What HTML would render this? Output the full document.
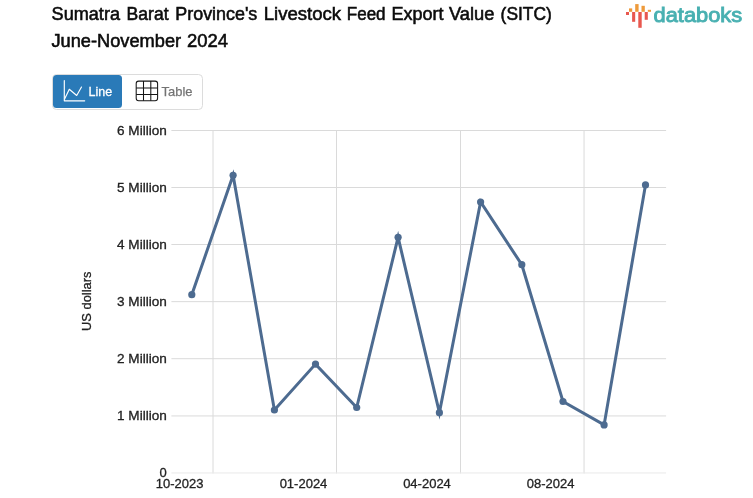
<!DOCTYPE html>
<html lang="en">
<head>
<meta charset="utf-8">
<title>Sumatra Barat Province's Livestock Feed Export Value (SITC)</title>
<style>
html,body{margin:0;padding:0;background:#fff;}
body{width:753px;height:498px;overflow:hidden;position:relative;font-family:"Liberation Sans",sans-serif;}
svg{position:absolute;left:0;top:0;display:block;}
text{font-family:"Liberation Sans",sans-serif;}
.title{font-size:17.6px;fill:#0c0c0c;stroke:#0c0c0c;stroke-width:0.55px;}
.ax{font-size:13px;fill:#222;stroke:#222;stroke-width:0.3px;}
.grid{stroke:#d6d6d6;stroke-width:1;fill:none;shape-rendering:auto;}
</style>
</head>
<body>
<svg width="753" height="498" viewBox="0 0 753 498">
  <!-- Title -->
  <text class="title" x="51.60" y="20.2" textLength="68.40" lengthAdjust="spacingAndGlyphs">Sumatra</text>
  <text class="title" x="126.60" y="20.2" textLength="42.00" lengthAdjust="spacingAndGlyphs">Barat</text>
  <text class="title" x="175.30" y="20.2" textLength="82.00" lengthAdjust="spacingAndGlyphs">Province's</text>
  <text class="title" x="263.70" y="20.2" textLength="77.40" lengthAdjust="spacingAndGlyphs">Livestock</text>
  <text class="title" x="346.80" y="20.2" textLength="38.80" lengthAdjust="spacingAndGlyphs">Feed</text>
  <text class="title" x="391.60" y="20.2" textLength="52.00" lengthAdjust="spacingAndGlyphs">Export</text>
  <text class="title" x="449.00" y="20.2" textLength="45.50" lengthAdjust="spacingAndGlyphs">Value</text>
  <text class="title" x="500.60" y="20.2" textLength="51.20" lengthAdjust="spacingAndGlyphs">(SITC)</text>
  <text class="title" x="51.50" y="47.3" textLength="129.60" lengthAdjust="spacingAndGlyphs">June-November</text>
  <text class="title" x="187.10" y="47.3" textLength="41.00" lengthAdjust="spacingAndGlyphs">2024</text>

  <!-- Logo -->
  <g id="logo">
    <rect x="629" y="8.4" width="3.2" height="3.4" fill="#ee9a3a"/>
    <rect x="635.2" y="4.1" width="3.4" height="7.7" fill="#ee9a3a"/>
    <rect x="641.5" y="5.8" width="3.3" height="6" fill="#ee9a3a"/>
    <rect x="647.8" y="9.8" width="3.2" height="2" fill="#ee9a3a"/>
    <rect x="626" y="12" width="3" height="3" fill="#e8584f"/>
    <rect x="632.1" y="12" width="3.1" height="9.8" fill="#e8584f"/>
    <rect x="638.3" y="12" width="3.4" height="15.8" fill="#e8584f"/>
    <rect x="644.7" y="12" width="3.1" height="7.8" fill="#e8584f"/>
    <text x="653.6" y="21.9" font-size="20.3" fill="#48b0b1" stroke="#48b0b1" stroke-width="0.9" textLength="88.6" lengthAdjust="spacingAndGlyphs">databoks</text>
  </g>

  <!-- Button group -->
  <rect x="52.5" y="74.5" width="150" height="35" rx="4" ry="4" fill="#fff" stroke="#dcdcdc" stroke-width="1"/>
  <rect x="53" y="75" width="69" height="33" rx="3.5" ry="3.5" fill="#2a7ab8"/>
  <g fill="none" stroke="#fff" stroke-width="1.15" stroke-linecap="round" stroke-linejoin="round">
    <path d="M64.3 80.6 V100.8 H84.7"/>
    <path d="M64.6 99 L69.3 89.3 L76.7 95.5 L81.5 87"/>
  </g>
  <text x="88.6" y="95.8" font-size="13" fill="#fff" stroke="#fff" stroke-width="0.3" textLength="23.6" lengthAdjust="spacingAndGlyphs">Line</text>
  <g fill="none" stroke="#151515" stroke-width="1.05">
    <rect x="136.2" y="81.1" width="21.4" height="19.6" rx="2.5" ry="2.5"/>
    <path d="M143.5 81.1 V100.7 M150.8 81.1 V100.7 M136.2 87.9 H157.6 M136.2 94.4 H157.6"/>
  </g>
  <text x="161.6" y="95.8" font-size="13" fill="#747474" stroke="#747474" stroke-width="0.25" textLength="30.9" lengthAdjust="spacingAndGlyphs">Table</text>

  <!-- Grid -->
  <g stroke="#dadada" stroke-width="1" fill="none">
    <path d="M171.4 130.5 H666.1 M171.4 187.5 H666.1 M171.4 244.5 H666.1 M171.4 301.65 H666.1 M171.4 358.7 H666.1 M171.4 415.95 H666.1"/>
    <path d="M213 130 V473.4 M336.5 130 V473.4 M460.5 130 V473.4 M584.05 130 V473.4"/>
  </g>
  <path d="M171.4 472.95 H666.1" stroke="#e9e9e9" stroke-width="1" fill="none"/>

  <!-- Y labels -->
  <g class="ax" text-anchor="end">
    <text x="166.8" y="134.7" textLength="49.8" lengthAdjust="spacingAndGlyphs">6 Million</text>
    <text x="166.8" y="191.7" textLength="49.8" lengthAdjust="spacingAndGlyphs">5 Million</text>
    <text x="166.8" y="248.7" textLength="49.8" lengthAdjust="spacingAndGlyphs">4 Million</text>
    <text x="166.8" y="305.8" textLength="49.8" lengthAdjust="spacingAndGlyphs">3 Million</text>
    <text x="166.8" y="362.6" textLength="49.8" lengthAdjust="spacingAndGlyphs">2 Million</text>
    <text x="166.8" y="419.9" textLength="49.8" lengthAdjust="spacingAndGlyphs">1 Million</text>
    <text x="166.8" y="476.7">0</text>
  </g>
  <text class="ax" transform="translate(90.6,301.3) rotate(-90)" text-anchor="middle" textLength="59.3" lengthAdjust="spacingAndGlyphs">US dollars</text>

  <!-- X labels -->
  <g class="ax" text-anchor="middle">
    <text x="179.7" y="487.9">10-2023</text>
    <text x="303.5" y="487.9">01-2024</text>
    <text x="427" y="487.9">04-2024</text>
    <text x="550.6" y="487.9">08-2024</text>
  </g>

  <!-- Series -->
  <path d="M191.8 294.7 L233.1 175.3 L274.4 410 L315.5 364.1 L356.7 407.5 L398.1 237.3 L439.4 412.7 L480.6 202 L521.8 264.7 L563 401.5 L604.1 424.9 L645.5 184.9" fill="none" stroke="#4d6b90" stroke-width="3" stroke-linejoin="miter" stroke-miterlimit="6" stroke-linecap="round"/>
  <g fill="#4d6b90">
    <circle cx="191.8" cy="294.7" r="3.6"/>
    <circle cx="233.1" cy="175.3" r="3.6"/>
    <circle cx="274.4" cy="410" r="3.6"/>
    <circle cx="315.5" cy="364.1" r="3.6"/>
    <circle cx="356.7" cy="407.5" r="3.6"/>
    <circle cx="398.1" cy="237.3" r="3.6"/>
    <circle cx="439.4" cy="412.7" r="3.6"/>
    <circle cx="480.6" cy="202" r="3.6"/>
    <circle cx="521.8" cy="264.7" r="3.6"/>
    <circle cx="563" cy="401.5" r="3.6"/>
    <circle cx="604.1" cy="424.9" r="3.6"/>
    <circle cx="645.5" cy="184.9" r="3.6"/>
  </g>
</svg>
</body>
</html>
